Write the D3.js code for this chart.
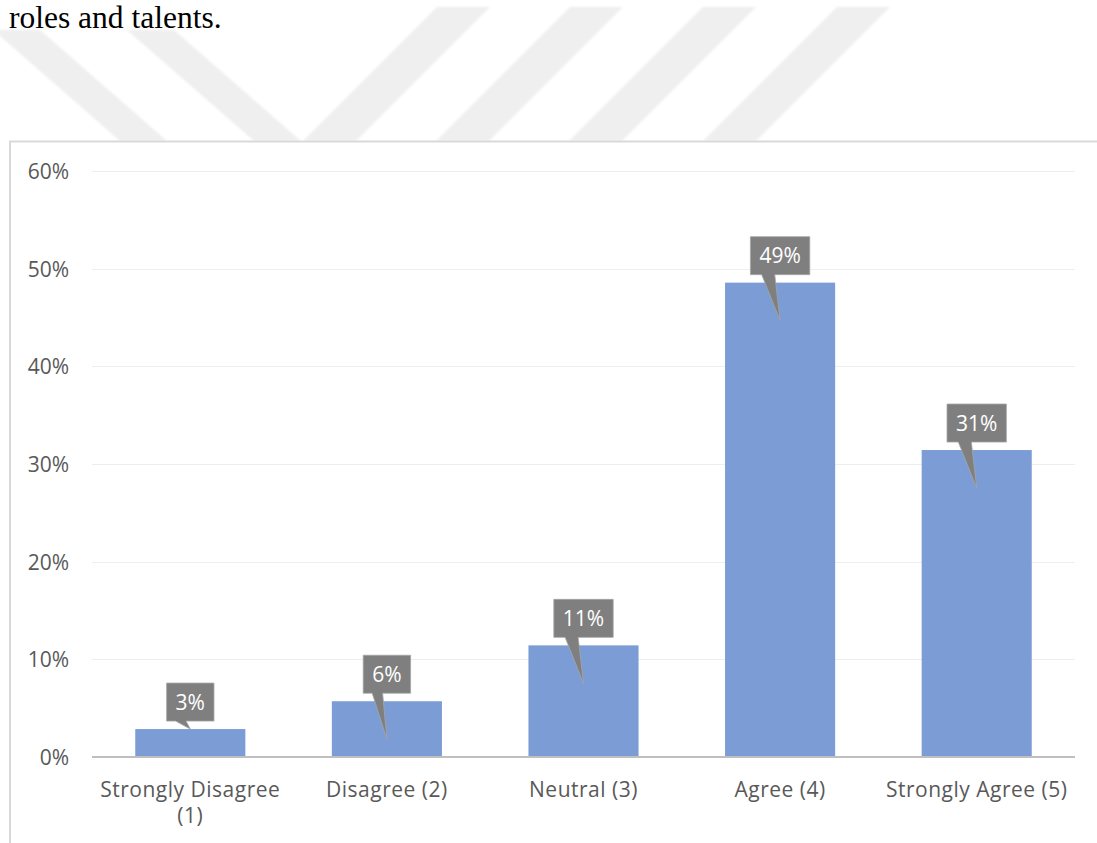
<!DOCTYPE html>
<html>
<head>
<meta charset="utf-8">
<script src="https://cdn.jsdelivr.net/npm/d3@7"></script>
<style>
  html, body { margin: 0; padding: 0; background: #ffffff; }
  svg { display: block; }
</style>
</head>
<body>
<svg id="page" width="1097" height="843"></svg>
<script>
// Survey responses (share of respondents) per Likert level
const categories = ["Strongly Disagree (1)", "Disagree (2)", "Neutral (3)", "Agree (4)", "Strongly Agree (5)"];
const categoryLines = [["Strongly Disagree", "(1)"], ["Disagree (2)"], ["Neutral (3)"], ["Agree (4)"], ["Strongly Agree (5)"]];
const shares = [0.0286, 0.0571, 0.1143, 0.4857, 0.3143];
const yTicks = [0, 0.1, 0.2, 0.3, 0.4, 0.5, 0.6];
const pct = d3.format(".0%");

const svg = d3.select("#page");

const defs = svg.append("defs");
defs.append("filter").attr("id", "soft")
  .append("feGaussianBlur").attr("stdDeviation", 1.2);

// Faint diagonal stripes of the page background mark
const wm = svg.append("g").attr("fill", "#efefef").attr("filter", "url(#soft)");
const stripeBottom = 141;
// "\" stripes: flat top at y=30, left x at that top edge
const backTop = 30, backStripes = [-7, 127];
const bh = stripeBottom - backTop, bdx = 127;
backStripes.forEach(b => {
  wm.append("path").attr("d",
    `M${b},${backTop}L${b + 47},${backTop}L${b + 47 + bdx},${stripeBottom}L${b + bdx},${stripeBottom}Z`);
});
// "/" stripes: flat top at y=7, left x at that top edge
const fwdTop = 7, fwdStripes = [437, 570, 703, 837];
const fh = stripeBottom - fwdTop;
fwdStripes.forEach(a => {
  wm.append("path").attr("d",
    `M${a},${fwdTop}L${a + 53},${fwdTop}L${a + 53 - fh},${stripeBottom}L${a - fh},${stripeBottom}Z`);
});

// Trailing line of the body text
svg.append("text")
  .attr("x", 9).attr("y", 28)
  .attr("font-family", "'Liberation Serif', 'Times New Roman', serif")
  .attr("font-size", 31.5)
  .attr("fill", "#000")
  .text("roles and talents.");

// Chart frame
svg.append("rect")
  .attr("x", 10).attr("y", 141.5)
  .attr("width", 1100).attr("height", 720)
  .attr("fill", "#ffffff")
  .attr("stroke", "#d9d9d9").attr("stroke-width", 2);

const font = "'Open Sans', 'Noto Sans', sans-serif";
const fs = 21;

const x = d3.scaleBand().domain(categories).range([92, 1075]).paddingInner(0.44).paddingOuter(0.22);
const y = d3.scaleLinear().domain([0, 0.6]).range([757, 171]);

// Gridlines
svg.append("g").selectAll("line").data(yTicks.filter(t => t > 0)).join("line")
  .attr("x1", 92).attr("x2", 1075)
  .attr("y1", d => Math.round(y(d)) + 0.5).attr("y2", d => Math.round(y(d)) + 0.5)
  .attr("stroke", "#eeeeee").attr("stroke-width", 1.2);

// Y axis tick labels
const yAxis = d3.axisLeft(y).tickValues(yTicks).tickFormat(pct).tickSize(0).tickPadding(0);
const yg = svg.append("g").attr("transform", "translate(69,0)").call(yAxis);
yg.select(".domain").remove();
yg.selectAll("text").attr("font-family", font).attr("font-size", fs).attr("fill", "#595959").attr("dy", "0.35em");

// Bars
svg.append("g").selectAll("rect").data(shares).join("rect")
  .attr("x", (d, i) => x(categories[i]))
  .attr("width", x.bandwidth())
  .attr("y", d => y(d))
  .attr("height", d => y(0) - y(d))
  .attr("fill", "#7b9cd5");

// Category axis
svg.append("line")
  .attr("x1", 92).attr("x2", 1075).attr("y1", 757).attr("y2", 757)
  .attr("stroke", "#bfbfbf").attr("stroke-width", 2);

const xl = svg.append("g");
categories.forEach((c, i) => {
  const t = xl.append("text")
    .attr("x", x(c) + x.bandwidth() / 2)
    .attr("y", 797)
    .attr("text-anchor", "middle")
    .attr("letter-spacing", 0.5)
    .attr("font-family", font).attr("font-size", fs).attr("fill", "#595959");
  categoryLines[i].forEach((ln, k) => {
    t.append("tspan").attr("x", x(c) + x.bandwidth() / 2).attr("dy", k === 0 ? 0 : 26).text(ln);
  });
});

// Callout data labels
const cg = svg.append("g");
shares.forEach((v, i) => {
  const cx = x(categories[i]) + x.bandwidth() / 2;
  const top = y(v);
  const label = pct(v);
  const g = cg.append("g");
  const txt = g.append("text")
    .attr("x", cx).attr("text-anchor", "middle")
    .attr("font-family", font).attr("font-size", fs).attr("fill", "#ffffff")
    .text(label);
  const w = txt.node().getComputedTextLength() + 18;
  const h = 38;
  const bx = cx - w / 2, by = top - 8 - h;
  const tipY = (y(0) - top) > 45 ? top + 38 : top;
  g.insert("path", "text")
    .attr("d", `M${bx},${by}H${bx + w}V${by + h}H${bx + 0.41 * w}L${cx},${tipY}L${bx + 0.19 * w},${by + h}H${bx}Z`)
    .attr("fill", "#7f7f7f").attr("stroke", "#a6a6a6").attr("stroke-width", 0.8);
  txt.attr("y", by + h / 2).attr("dy", "0.36em");
});
</script>
</body>
</html>
